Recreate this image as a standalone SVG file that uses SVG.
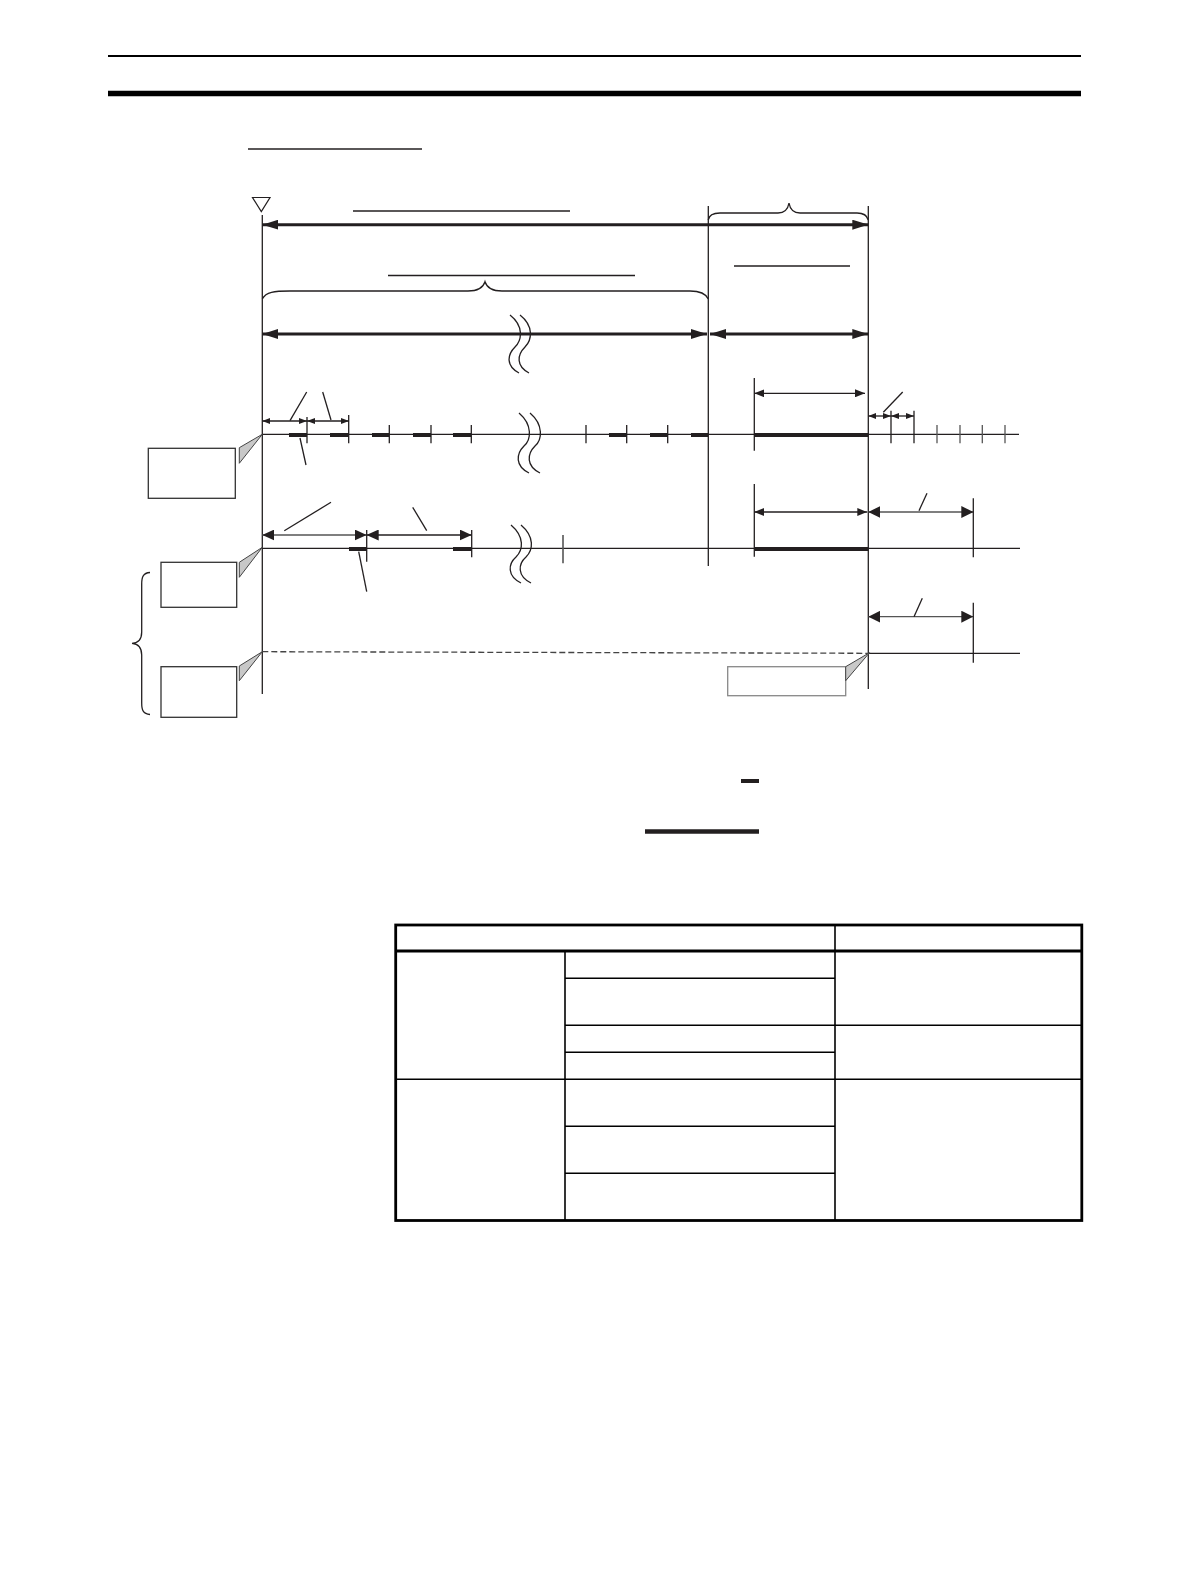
<svg xmlns="http://www.w3.org/2000/svg" width="1190" height="1586" viewBox="0 0 1190 1586">
<style>
.ln{stroke:#231f20;stroke-width:1.3;fill:none}
.gl{stroke:#555;stroke-width:1.3;fill:none}
.thk{stroke:#231f20;stroke-width:3;fill:none}
.pulse{stroke:#231f20;stroke-width:4;fill:none}
.box{fill:#fff;stroke:#333;stroke-width:1.3}
.gbox{fill:#fff;stroke:#888;stroke-width:1.3}
.ptr{fill:#c8c8c8;stroke:#444;stroke-width:1}
.tb{stroke:#000;stroke-width:2.8;fill:none}
.ti{stroke:#000;stroke-width:1.6;fill:none}
</style>
<defs>
<marker id="mBig" markerUnits="userSpaceOnUse" markerWidth="16" markerHeight="10" refX="16" refY="5" orient="auto-start-reverse"><path d="M0,0 L16,5 L0,10 z" fill="#231f20"/></marker>
<marker id="mMed" markerUnits="userSpaceOnUse" markerWidth="12" markerHeight="11" refX="12" refY="5.5" orient="auto-start-reverse"><path d="M0,0 L12,5.5 L0,11 z" fill="#231f20"/></marker>
<marker id="mNar" markerUnits="userSpaceOnUse" markerWidth="10" markerHeight="8" refX="10" refY="4" orient="auto-start-reverse"><path d="M0,0 L10,4 L0,8 z" fill="#231f20"/></marker>
<marker id="mTall" markerUnits="userSpaceOnUse" markerWidth="12" markerHeight="12" refX="12" refY="6" orient="auto-start-reverse"><path d="M0,0 L12,6 L0,12 z" fill="#231f20"/></marker>
<marker id="mSm" markerUnits="userSpaceOnUse" markerWidth="8" markerHeight="6" refX="8" refY="3" orient="auto-start-reverse"><path d="M0,0 L8,3 L0,6 z" fill="#231f20"/></marker>
</defs>

<!-- header rules -->
<g id="header">
<line x1="108" y1="56" x2="1081" y2="56" stroke="#000" stroke-width="2"/>
<line x1="108" y1="93.5" x2="1081" y2="93.5" stroke="#000" stroke-width="5.5"/>
<line x1="248" y1="149" x2="422" y2="149" stroke="#231f20" stroke-width="1.5"/>
</g>

<!-- timing chart -->
<g id="chart">
<polygon points="252.5,197.5 270,197.5 261.3,211.5" fill="#fff" stroke="#231f20" stroke-width="1.2"/>
<line class="ln" x1="262.3" y1="215" x2="262.3" y2="694"/>
<line class="ln" x1="708.3" y1="206" x2="708.3" y2="566"/>
<line class="ln" x1="868.3" y1="206" x2="868.3" y2="689"/>
<line class="ln" x1="353" y1="211" x2="570" y2="211"/>
<line class="ln" x1="388" y1="275.5" x2="635" y2="275.5"/>
<line class="ln" x1="734" y1="266" x2="850" y2="266"/>
<path class="ln" d="M262.3,299 C266,292 274,291 290,291 L468,291 C478,291 483,288 485,281.7 C487,288 492,291 502,291 L690,291 C700,291 706,294 708.3,299"/>
<path class="ln" d="M708.3,220 C709,215 713,213 720,213 L778,213 C785,213 788,209 789,203 C790,209 793,213 800,213 L857,213 C864,213 867,215 868.3,220"/>
</g>

<g id="connectors">
<line class="thk" x1="262.3" y1="224.7" x2="868.3" y2="224.7" marker-start="url(#mBig)" marker-end="url(#mBig)"/>
<line class="thk" x1="262.3" y1="334" x2="707" y2="334" marker-start="url(#mBig)" marker-end="url(#mBig)"/>
<line class="thk" x1="710" y1="334" x2="868.3" y2="334" marker-start="url(#mBig)" marker-end="url(#mBig)"/>
<line class="ln" x1="262.3" y1="421" x2="307" y2="421" marker-start="url(#mSm)" marker-end="url(#mSm)"/>
<line class="ln" x1="307" y1="421" x2="349" y2="421" marker-start="url(#mSm)" marker-end="url(#mSm)"/>
<line class="ln" x1="868.3" y1="416" x2="891" y2="416" marker-start="url(#mSm)" marker-end="url(#mSm)"/>
<line class="ln" x1="891" y1="416" x2="914" y2="416" marker-start="url(#mSm)" marker-end="url(#mSm)"/>
<line class="ln" x1="754.3" y1="393.3" x2="865" y2="393.3" stroke-width="1.6" marker-start="url(#mNar)" marker-end="url(#mNar)"/>
<line class="gl" x1="262.3" y1="535" x2="366.7" y2="535" marker-start="url(#mMed)" marker-end="url(#mMed)"/>
<line class="ln" x1="366.7" y1="535" x2="471.7" y2="535" marker-start="url(#mMed)" marker-end="url(#mMed)"/>
<line class="ln" x1="754.3" y1="512" x2="867.3" y2="512" stroke-width="1.6" marker-start="url(#mNar)" marker-end="url(#mNar)"/>
<line class="gl" x1="868.3" y1="512" x2="973.3" y2="512" stroke-width="1.6" marker-start="url(#mTall)" marker-end="url(#mTall)"/>
<line class="gl" x1="868.3" y1="616.7" x2="973.3" y2="616.7" stroke-width="1.6" marker-start="url(#mTall)" marker-end="url(#mTall)"/>
<!-- leaders -->
<line class="ln" x1="290" y1="420.7" x2="306.7" y2="392"/>
<line class="ln" x1="331" y1="420" x2="322.7" y2="392"/>
<line class="ln" x1="300" y1="438" x2="306" y2="465"/>
<line class="ln" x1="883.3" y1="412.3" x2="902.7" y2="392"/>
<line class="ln" x1="284.3" y1="530.7" x2="331" y2="502.3"/>
<line class="ln" x1="426.7" y1="530.7" x2="412.7" y2="507.3"/>
<line class="ln" x1="358.7" y1="551.7" x2="366.7" y2="591.7"/>
<line class="ln" x1="919" y1="510.7" x2="927" y2="493.3"/>
<line class="ln" x1="914" y1="616.7" x2="922.3" y2="598.3"/>
</g>

<!-- row 1 -->
<g id="row1">
<line class="ln" x1="262.3" y1="434.3" x2="1019" y2="434.3"/>
<g class="ln" stroke-width="1.6">
<line x1="307" y1="417" x2="307" y2="443.3"/>
<line x1="348.7" y1="415" x2="348.7" y2="443.3"/>
<line x1="389.3" y1="425" x2="389.3" y2="443.3"/>
<line x1="431" y1="425" x2="431" y2="443.3"/>
<line x1="471.3" y1="425" x2="471.3" y2="443.3"/>
<line x1="586" y1="425" x2="586" y2="443.3"/>
<line x1="626.7" y1="425" x2="626.7" y2="443.3"/>
<line x1="667.7" y1="425" x2="667.7" y2="443.3"/>
<line x1="754.3" y1="378" x2="754.3" y2="450.7"/>
<line x1="891" y1="410.7" x2="891" y2="443.3"/>
<line x1="914" y1="410.7" x2="914" y2="443.3"/>
</g>
<g class="gl">
<line x1="937" y1="425" x2="937" y2="443.3"/>
<line x1="960" y1="425" x2="960" y2="443.3"/>
<line x1="982.3" y1="425" x2="982.3" y2="443.3"/>
<line x1="1005" y1="425" x2="1005" y2="443.3"/>
</g>
<g class="pulse">
<line x1="289" y1="435" x2="307" y2="435"/>
<line x1="330" y1="435" x2="349" y2="435"/>
<line x1="372" y1="435" x2="389" y2="435"/>
<line x1="413" y1="435" x2="431" y2="435"/>
<line x1="453" y1="435" x2="471" y2="435"/>
<line x1="609" y1="435" x2="627" y2="435"/>
<line x1="650" y1="435" x2="668" y2="435"/>
<line x1="691" y1="435" x2="708" y2="435"/>
<line x1="754.3" y1="435" x2="868.3" y2="435"/>
</g>
</g>

<!-- row 2 -->
<g id="row2">
<line class="ln" x1="262.3" y1="548.3" x2="1020" y2="548.3"/>
<g class="ln">
<line x1="366.7" y1="530" x2="366.7" y2="561.7"/>
<line x1="471.7" y1="530" x2="471.7" y2="557.3"/>
<line x1="563" y1="535" x2="563" y2="563.3" stroke="#555" stroke-width="1.6"/>
<line x1="754.3" y1="484" x2="754.3" y2="556.7"/>
<line x1="973.3" y1="498.3" x2="973.3" y2="557.3"/>
</g>
<g class="pulse">
<line x1="349" y1="549" x2="367" y2="549"/>
<line x1="453" y1="549" x2="472" y2="549"/>
<line x1="754.3" y1="549" x2="868.3" y2="549"/>
</g>
</g>

<!-- row 3 -->
<g id="row3">
<line x1="262.3" y1="651.7" x2="868.3" y2="653.3" stroke="#444" stroke-width="1.3" stroke-dasharray="6,3"/>
<line class="ln" x1="868.3" y1="653.3" x2="1020" y2="653.3"/>
<line class="ln" x1="973.3" y1="602.7" x2="973.3" y2="662.7"/>
</g>

<!-- wavy breaks -->
<g id="breaks" class="ln" stroke-width="1">
<path d="M510,315 C524,326 522,340 515,347 C507,355 506,366 519,373"/>
<path d="M520,315 C534,326 532,340 525,347 C517,355 516,366 529,373"/>
<path d="M519,413 C533,425 531,440 524,446 C516,454 515,466 529,473"/>
<path d="M530,413 C544,425 542,440 535,446 C527,454 526,466 540,473"/>
<path d="M511,525 C525,537 523,550 516,557 C508,564 507,576 521,583"/>
<path d="M521,525 C535,537 533,550 526,557 C518,564 517,576 531,583"/>
</g>

<!-- callouts -->
<g id="callout1">
<rect class="box" x="148.3" y="448.3" width="87" height="50"/>
<polygon class="ptr" points="239.3,447.7 262.3,434.3 239.3,463.3"/>
</g>
<g id="callout2">
<rect class="box" x="161" y="562.3" width="75.7" height="45"/>
<polygon class="ptr" points="239.3,562.3 262.3,547.3 239.3,577.3"/>
</g>
<g id="callout3">
<rect class="box" x="161" y="666.7" width="75.7" height="50.6"/>
<polygon class="ptr" points="239.3,666 262.3,651.7 239.3,680.7"/>
</g>
<g id="callout4">
<rect class="gbox" x="727.7" y="666.7" width="118" height="29"/>
<polygon class="ptr" points="845.7,666.7 869.5,652.7 845.7,680.7"/>
</g>
<path id="leftbrace" class="ln" d="M150,572.5 C143,573 141.7,577 141.7,584 L141.7,632 C141.7,639 139,643 132,643.3 C139,643.8 141.7,648 141.7,655 L141.7,703 C141.7,710 143,714 150,714.5"/>

<!-- bars below chart -->
<g id="bars">
<line x1="741" y1="781" x2="759" y2="781" stroke="#231f20" stroke-width="4"/>
<line x1="645" y1="831.5" x2="759" y2="831.5" stroke="#231f20" stroke-width="4.5"/>
</g>

<!-- table -->
<g id="table">
<rect class="tb" x="395.7" y="925" width="686.1" height="295.5"/>
<line class="tb" x1="395.7" y1="951" x2="1081.8" y2="951"/>
<line class="ti" x1="565" y1="951" x2="565" y2="1220.5"/>
<line class="ti" x1="835" y1="925" x2="835" y2="1220.5"/>
<line class="ti" x1="565" y1="978.3" x2="835" y2="978.3"/>
<line class="ti" x1="565" y1="1025.3" x2="1081.8" y2="1025.3"/>
<line class="ti" x1="565" y1="1052.3" x2="835" y2="1052.3"/>
<line class="ti" x1="395.7" y1="1079.3" x2="1081.8" y2="1079.3"/>
<line class="ti" x1="565" y1="1126.3" x2="835" y2="1126.3"/>
<line class="ti" x1="565" y1="1173.3" x2="835" y2="1173.3"/>
</g>
</svg>
